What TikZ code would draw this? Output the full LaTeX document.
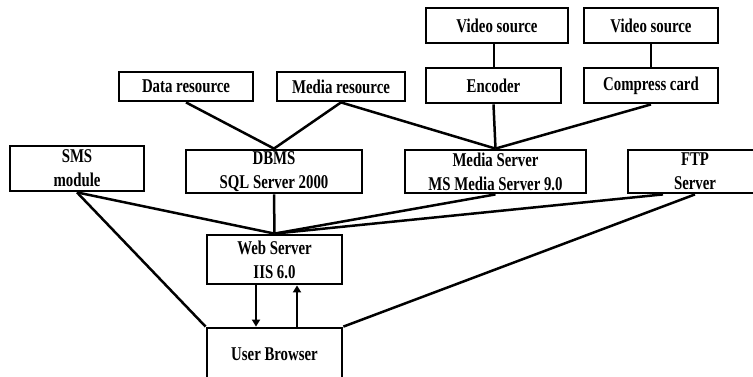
\documentclass[tikz,border=0pt]{standalone}
\usepackage{fontspec}
\setmainfont{Liberation Serif}[FakeStretch=0.76]
\usetikzlibrary{arrows.meta}

\begin{document}
\begin{tikzpicture}[
        x=1pt, y=-1pt, % one unit per pixel, y going down
        sysbox/.style={
            draw=black,
            line width=2.8pt,
            inner sep=0pt,
            align=center,
            font=\fontsize{19.5}{24}\selectfont\bfseries
        },
        syslink/.style={line width=2.5pt},
        sysflow/.style={line width=2pt, -{Triangle[length=7pt,width=8pt]}}
    ]
    \useasboundingbox (0,0) rectangle (753,376);

% Sources and media front end
    \node[sysbox, minimum width=142pt, minimum height=35pt] (video1) at (497,25.5) {Video source};
    \node[sysbox, minimum width=134pt, minimum height=35pt] (video2) at (651,25.5) {Video source};
    \node[sysbox, minimum width=135pt, minimum height=35pt] (encoder) at (493.5,85.5) {Encoder};
    \node[sysbox, minimum width=134pt, minimum height=35pt] (compress) at (651,85.5) {Compress card};
    \node[sysbox, minimum width=134pt, minimum height=29pt] (datares) at (186,86.5) {Data resource};
    \node[sysbox, minimum width=128pt, minimum height=29pt] (mediares) at (341,86.5) {Media resource};

% Server row
    \node[sysbox, minimum width=134pt, minimum height=45pt] (sms) at (77,168.5) {SMS\\module};
    \node[sysbox, minimum width=176pt, minimum height=43pt] (dbms) at (274,171.5) {DBMS\\SQL Server 2000};
    \node[sysbox, minimum width=181pt, minimum height=43pt] (mediasrv) at (495.5,171.5) {Media Server\\MS Media Server 9.0};
    \node[sysbox, minimum width=134pt, minimum height=43pt] (ftp) at (695,171.5) {FTP\\Server};

% Web tier and client
    \node[sysbox, minimum width=135pt, minimum height=49pt] (web) at (274.5,259.5) {Web Server\\IIS 6.0};
    \node[sysbox, minimum width=135pt, minimum height=52pt] (browser) at (274.5,354) {User Browser};

% Links
    \draw[line width=2pt] (video1.south -| encoder.north) -- (encoder.north);
    \draw[line width=2pt] (video2.south) -- (compress.north);
    \draw[syslink] (datares.south) -- (dbms.north);
    \draw[syslink] (mediares.south) -- (dbms.north);
    \draw[syslink] (mediares.south) -- (mediasrv.north);
    \draw[syslink] (encoder.south) -- (mediasrv.north);
    \draw[syslink] (compress.south) -- (mediasrv.north);

    \draw[syslink] (sms.south) -- (web.north);
    \draw[syslink] (dbms.south) -- (web.north);
    \draw[syslink] (mediasrv.south) -- (web.north);
    \draw[syslink] ([xshift=-32pt]ftp.south) -- (web.north);
    \draw[syslink] (sms.south) -- (browser.north west);
    \draw[syslink] (ftp.south) -- (browser.north east);

% Request / response
    \draw[sysflow] ([xshift=-18.5pt]web.south) -- ([xshift=-18.5pt]browser.north);
    \draw[sysflow] ([xshift=22.5pt]browser.north) -- ([xshift=22.5pt]web.south);

\end{tikzpicture}
\end{document}
